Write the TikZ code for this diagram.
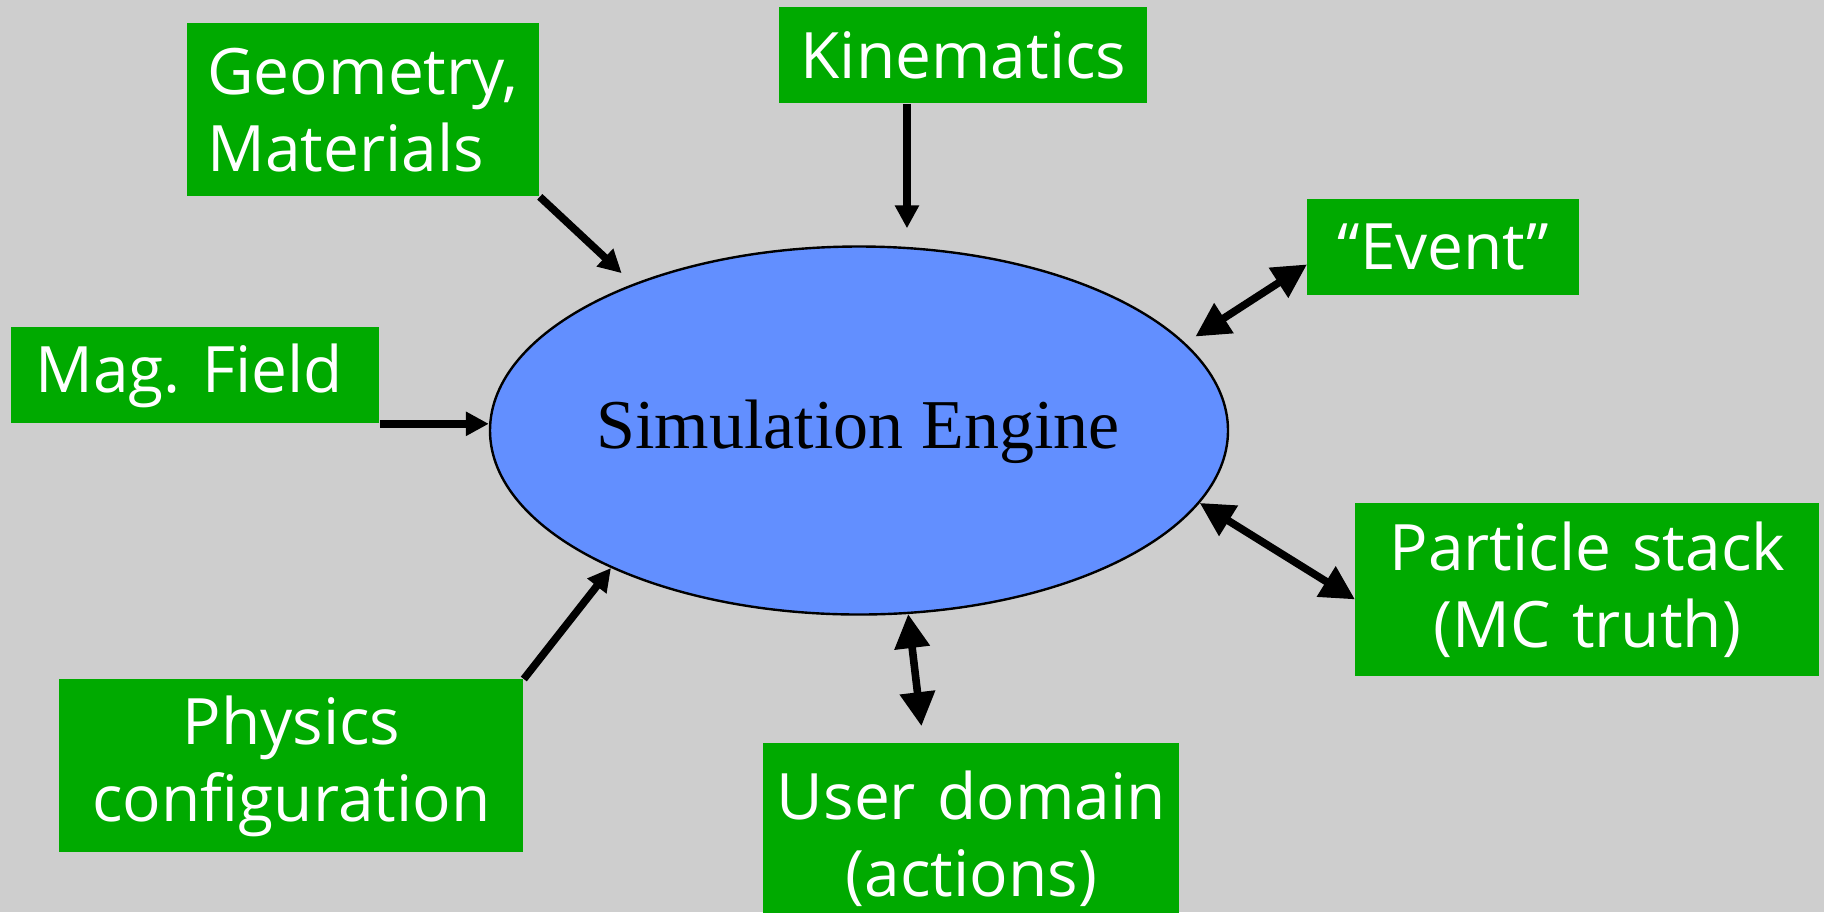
\documentclass[tikz,border=0pt]{standalone}
\usepackage{fontspec}
\setmainfont{Liberation Serif}
\newfontfamily\boxfont{Open Sans}
\usetikzlibrary{shapes.geometric,arrows.meta,calc}
\definecolor{bgcol}{RGB}{206,206,206}
\definecolor{boxgreen}{RGB}{0,170,0}
\definecolor{engblue}{RGB}{98,143,255}
\begin{document}
\begin{tikzpicture}[x=0.5pt,y=-0.5pt,
  greenbox/.style={fill=boxgreen, text=white, inner sep=0pt, anchor=north west,
    font=\boxfont\fontsize{32}{38.5}\selectfont},
  conn/.style={line width=3.8pt, -{Triangle[length=11.5pt,width=11.5pt]}},
  dconn/.style={line width=3.8pt, {Triangle[length=17pt,width=17pt]}-{Triangle[length=17pt,width=17pt]}},
]
\fill[bgcol] (0,0) rectangle (1824,912);
\useasboundingbox (0,0) rectangle (1824,912);

% engine
\node[ellipse, draw, line width=1.2pt, fill=engblue, minimum width=369pt, minimum height=184pt, inner sep=0pt] (eng) at (859,430.5) {};
\node[font=\fontsize{35}{42}\selectfont, anchor=base] (engtxt) at (858,448) {Simulation Engine};

% boxes
\node[greenbox, minimum width=176pt, minimum height=86.5pt, inner xsep=10pt, text width=156pt, align=left] (geo) at (187,23) {Geometry,\\Materials};
\node[greenbox, minimum width=184pt, minimum height=48pt, text width=184pt, align=center] (kin) at (779,7) {Kinematics};
\node[greenbox, minimum width=136pt, minimum height=48pt, text width=136pt, align=center] (evt) at (1307,199) {“Event”};
\node[greenbox, minimum width=184pt, minimum height=48pt, inner xsep=12pt, text width=160pt, align=left] (mag) at (11,327) {Mag.\ Field};
\node[greenbox, minimum width=232pt, minimum height=86.5pt, text width=232pt, align=center] (part) at (1355,503) {Particle stack\\(MC truth)};
\node[greenbox, minimum width=232pt, minimum height=86.5pt, text width=232pt, align=center] (phys) at (59,679) {Physics\\configuration};
\node[greenbox, minimum width=208pt, minimum height=95pt, text width=208pt, align=center] (user) at (763,743) {User domain\\(actions)};

% connectors
\draw[conn, shorten >=7.8pt] (geo.south east) -- (eng.147.4);
\coordinate (kinpt) at ($(kin.south west)!0.347!(kin.south east)$);
\draw[conn, shorten >=8.5pt] (kinpt) -- (kinpt |- eng.north);
\draw[conn] (mag.south east) -- (mag.south east -| eng.west);
\draw[conn] (phys.north east) -- (eng.209.8);
\coordinate (evtpt) at ($(evt.west)+(0,17)$);
\draw[dconn, shorten <=6pt] (eng.15) -- (evtpt);
\coordinate (partpt) at ($(part.west)+(0,9.5)$);
\draw[dconn] (eng.-12.4) -- (partpt);
\coordinate (userpt) at ($(user.north west)!0.385!(user.north east)$);
\draw[dconn, shorten >=8.5pt] (eng.-75.3) -- (userpt);
\end{tikzpicture}
\end{document}
